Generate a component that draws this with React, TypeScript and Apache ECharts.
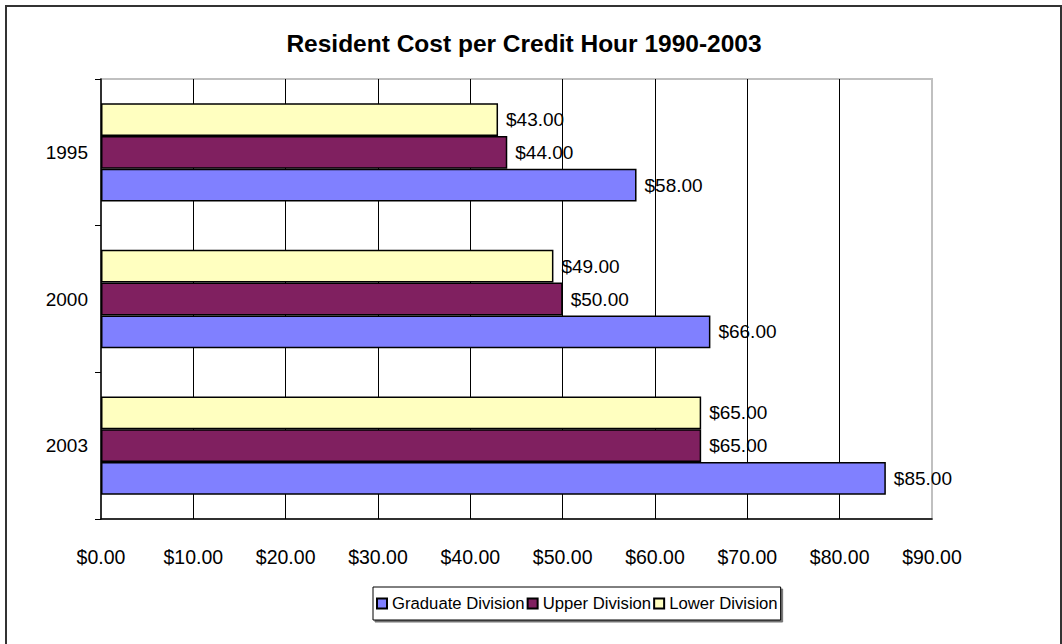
import React, { useEffect, useRef } from "react";
import * as echarts from "echarts";

const years = ["2003", "2000", "1995"];
const seriesNames = ["Graduate Division", "Upper Division", "Lower Division"];
const graduate = [85, 66, 58];
const upper = [65, 50, 44];
const lower = [65, 49, 43];
const colors = ["#8080FF", "#802060", "#FFFFC0"];
const titleText = "Resident Cost per Credit Hour 1990-2003";

const FONT = "Arial, 'Liberation Sans', sans-serif";
const money = (v: number) => "$" + Number(v).toFixed(2);

export default function App() {
  const ref = useRef<HTMLDivElement>(null);
  useEffect(() => {
    if (!ref.current) return;
    const chart = echarts.init(ref.current, undefined, { renderer: "svg" });
    const values = [graduate, upper, lower];
    // ECharts places the first series at the top of a horizontal band; the
    // reference shows Lower at top, so series are added in reverse order.
    const order = [2, 1, 0];
    chart.setOption({
      animation: false,
      backgroundColor: "#fff",
      textStyle: { fontFamily: FONT },
      title: {
        text: titleText,
        left: 519,
        textAlign: "center",
        top: 26,
        textStyle: { fontSize: 24.5, fontWeight: "bold", color: "#000", fontFamily: FONT },
      },
      graphic: [
        {
          type: "rect",
          shape: { x: 6, y: 6, width: 1055, height: 680 },
          style: { fill: "none", stroke: "#333", lineWidth: 2 },
          z: 100,
        },
      ],
      legend: {
        data: seriesNames,
        left: 373,
        top: 587,
        icon: "rect",
        itemWidth: 10,
        itemHeight: 10,
        itemGap: 2,
        padding: [8, 3],
        borderColor: "#000",
        borderWidth: 1,
        shadowColor: "rgba(0,0,0,0.55)",
        shadowOffsetX: 2,
        shadowOffsetY: 2,
        shadowBlur: 0,
        backgroundColor: "#fff",
        textStyle: { fontSize: 16.7, color: "#000", fontFamily: FONT },
      },
      grid: {
        left: 101,
        right: 130,
        top: 79,
        bottom: 125,
        show: true,
        borderColor: "#c0c0c0",
        borderWidth: 2,
        backgroundColor: "#fff",
      },
      xAxis: {
        type: "value",
        min: 0,
        max: 90,
        interval: 10,
        axisLine: { show: true, lineStyle: { color: "#000", width: 1.5 } },
        axisTick: { show: false },
        splitLine: { show: true, showMinLine: false, showMaxLine: false, lineStyle: { color: "#000", width: 1 } },
        axisLabel: { formatter: money, fontSize: 19.5, color: "#000", margin: 28, fontFamily: FONT },
      },
      yAxis: {
        type: "category",
        data: years,
        axisLine: { show: true, lineStyle: { color: "#000", width: 1.5 } },
        axisTick: { show: true, length: 6, lineStyle: { color: "#000", width: 1 } },
        axisLabel: { fontSize: 19, color: "#000", margin: 13, fontFamily: FONT },
      },
      series: order.map((i) => ({
        name: seriesNames[i],
        type: "bar",
        data: values[i],
        barGap: "0%",
        barCategoryGap: "33%",
        itemStyle: { color: colors[i], borderColor: "#000", borderWidth: 1.5 },
        label: {
          show: true,
          position: "right",
          distance: 8,
          formatter: (p: any) => money(p.value),
          fontSize: 19,
          color: "#000",
          fontFamily: FONT,
        },
      })),
    });
    return () => chart.dispose();
  }, []);
  return (
    <div
      ref={ref}
      style={{ position: "absolute", left: 0, top: 0, width: 1062, height: 644, background: "#fff" }}
    />
  );
}
